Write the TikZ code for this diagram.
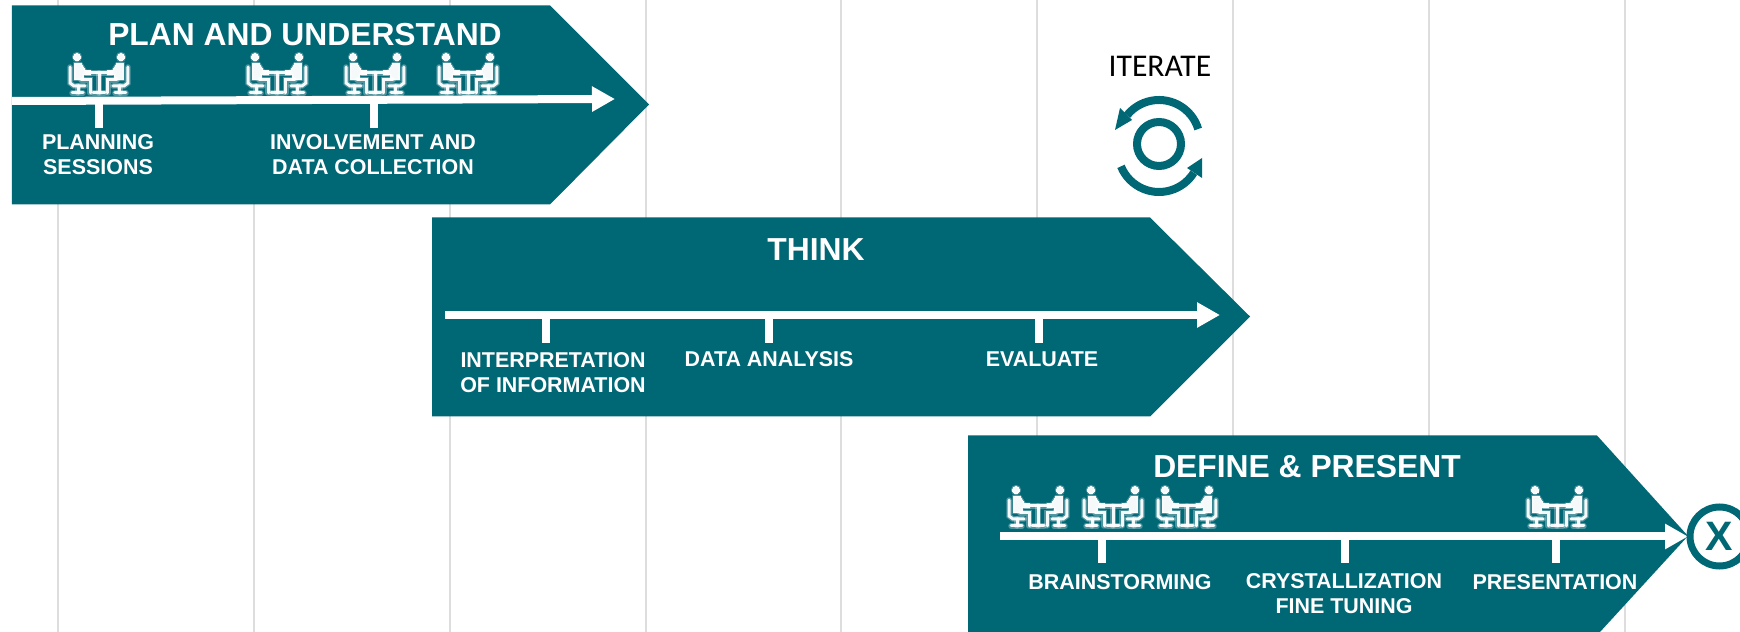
\documentclass[tikz,border=0pt]{standalone}
\usepackage{fontspec}
\setmainfont{Liberation Sans}
\newfontfamily\iterfont{Carlito}
\usetikzlibrary{arrows.meta}
\definecolor{phaseteal}{HTML}{006775}
\definecolor{gridgray}{HTML}{DDDDDD}
\tikzset{
	gridline/.style={line width=0.2mm, color=gridgray},
	phase/.style={fill=phaseteal, draw=none},
	timeline/.style={line width=0.8mm, color=white, -{Triangle[length=2.3mm, width=2.4mm]}},
	tickline/.style={line width=0.8mm, color=white},
	phasetitle/.style={color=white, font=\fontsize{9.05}{11}\selectfont\bfseries},
	steplabel/.style={color=white, align=center, font=\fontsize{6.1}{7.1}\selectfont\bfseries},
	cyclearc/.style={line width=0.8mm, color=phaseteal},
	meeting/.pic={
		\foreach \extra/\op in {0.25/0.3, 0/0.95} {
			\begin{scope}[x=0.01cm, y=0.01cm, color=white, line cap=round, opacity=\op, line width=\extra mm + 0.3mm]
				\draw (-13, 1) -- (13, 1);
				\draw (0, 1) -- (0, -19);
				\draw (-6, -19) -- (6, -19);
				\foreach \side in {1, -1} {
					\begin{scope}[xscale=\side]
						\filldraw[line width=\extra mm] (-22, 17) circle (3.8);
						\draw (-29, 7) -- (-29, -9) -- (-25, -12) -- (-14, -12);
						\filldraw[line width=\extra mm] (-24.5, 11) -- (-18, 11) -- (-13, 3) -- (-9, 3) -- (-9, -1) -- (-16, -1) -- (-16, -6) -- (-24.5, -6) -- cycle;
						\draw (-18, -6) -- (-9, -6) -- (-9, -19);
						\draw (-21, -12) -- (-21, -19);
						\draw (-27, -19) -- (-16, -19);
					\end{scope}
				}
			\end{scope}
		}
	}
}

\begin{document}
\begin{tikzpicture}
	\useasboundingbox (0, 0) rectangle (17.4, 6.32);
	
	\foreach \x in {0.58, 2.54, 4.50, 6.46, 8.41, 10.37, 12.33, 14.29, 16.25} {
		\draw[gridline] (\x, 0) -- (\x, 6.32);
	}
	
	%%%%% PLAN %%%%%
	\fill[phase] (0.12, 6.265) -- (5.50, 6.265) -- (6.49, 5.275) -- (5.50, 4.275) -- (0.12, 4.275) -- cycle;
	\node[phasetitle] (plantitle) at (3.05, 5.97) {PLAN AND UNDERSTAND};
	
	\coordinate (planstart) at (0.12, 5.31);
	\coordinate (planend) at (6.15, 5.33);
	\coordinate (plantickA) at (0.99, 5.31);
	\coordinate (plantickAend) at (0.99, 5.04);
	\coordinate (plantickB) at (3.74, 5.32);
	\coordinate (plantickBend) at (3.74, 5.04);
	\draw[tickline] (plantickA) -- (plantickAend);
	\draw[tickline] (plantickB) -- (plantickBend);
	\draw[timeline] (planstart) -- (planend);
	
	\pic at (0.99, 5.58) {meeting};
	\pic at (2.77, 5.58) {meeting};
	\pic at (3.75, 5.58) {meeting};
	\pic at (4.68, 5.58) {meeting};
	
	\node[steplabel] (plansessions) at (0.98, 4.77) {PLANNING\\SESSIONS};
	\node[steplabel] (involvement) at (3.73, 4.77) {INVOLVEMENT AND\\DATA COLLECTION};
	
	%%%%% ITERATE %%%%%
	\node[font=\iterfont\fontsize{9}{10}\selectfont] (iterate) at (11.60, 5.655) {ITERATE};
	\coordinate (upperc) at (11.59, 4.91);
	\coordinate (lowerc) at (11.59, 4.81);
	\draw[cyclearc] (11.59, 4.88) circle (0.22);
	\draw[cyclearc] (upperc) ++(17:0.41) arc (17:141:0.41);
	\draw[cyclearc] (lowerc) ++(202:0.41) arc (202:328:0.41);
	\fill[phaseteal] (11.15, 5.02) -- (11.20, 5.24) -- (11.32, 5.12) -- cycle;
	\fill[phaseteal] (12.02, 4.74) -- (12.02, 4.54) -- (11.87, 4.64) -- cycle;
	
	%%%%% THINK %%%%%
	\fill[phase] (4.32, 4.145) -- (11.50, 4.145) -- (12.50, 3.155) -- (11.50, 2.155) -- (4.32, 2.155) -- cycle;
	\node[phasetitle] (thinktitle) at (8.16, 3.825) {THINK};
	
	\coordinate (thinkstart) at (4.45, 3.17);
	\coordinate (thinkend) at (12.20, 3.17);
	\coordinate (thinktickA) at (5.46, 3.17);
	\coordinate (thinktickAend) at (5.46, 2.89);
	\coordinate (thinktickB) at (7.69, 3.17);
	\coordinate (thinktickBend) at (7.69, 2.89);
	\coordinate (thinktickC) at (10.39, 3.17);
	\coordinate (thinktickCend) at (10.39, 2.89);
	\draw[tickline] (thinktickA) -- (thinktickAend);
	\draw[tickline] (thinktickB) -- (thinktickBend);
	\draw[tickline] (thinktickC) -- (thinktickCend);
	\draw[timeline] (thinkstart) -- (thinkend);
	
	\node[steplabel] (interpretation) at (5.53, 2.59) {INTERPRETATION\\OF INFORMATION};
	\node[steplabel] (dataanalysis) at (7.69, 2.73) {DATA ANALYSIS};
	\node[steplabel] (evaluate) at (10.42, 2.73) {EVALUATE};
	
	%%%%% DEFINE %%%%%
	\fill[phase] (9.68, 1.965) -- (15.97, 1.965) -- (16.88, 0.96) -- (16.00, 0) -- (9.68, 0) -- cycle;
	\node[phasetitle] (definetitle) at (13.07, 1.65) {DEFINE \& PRESENT};
	
	\coordinate (definestart) at (10.00, 0.955);
	\coordinate (defineend) at (16.88, 0.955);
	\coordinate (definetickA) at (11.02, 0.955);
	\coordinate (definetickAend) at (11.02, 0.69);
	\coordinate (definetickB) at (13.45, 0.955);
	\coordinate (definetickBend) at (13.45, 0.69);
	\coordinate (definetickC) at (15.56, 0.955);
	\coordinate (definetickCend) at (15.56, 0.69);
	\draw[tickline] (definetickA) -- (definetickAend);
	\draw[tickline] (definetickB) -- (definetickBend);
	\draw[tickline] (definetickC) -- (definetickCend);
	\draw[timeline] (definestart) -- (defineend);
	
	\pic at (10.38, 1.25) {meeting};
	\pic at (11.13, 1.25) {meeting};
	\pic at (11.87, 1.25) {meeting};
	\pic at (15.57, 1.25) {meeting};
	
	\node[steplabel] (brainstorming) at (11.20, 0.50) {BRAINSTORMING};
	\node[steplabel] (crystallization) at (13.44, 0.38) {CRYSTALLIZATION\\FINE TUNING};
	\node[steplabel] (presentation) at (15.55, 0.50) {PRESENTATION};
	
	\node[circle, draw=phaseteal, fill=white, line width=0.7mm, minimum size=0.59cm, inner sep=0pt, outer sep=0pt,
		text=phaseteal, font=\fontsize{11.7}{12}\selectfont\bfseries] (finish) at (17.195, 0.955) {X};
\end{tikzpicture}
\end{document}
